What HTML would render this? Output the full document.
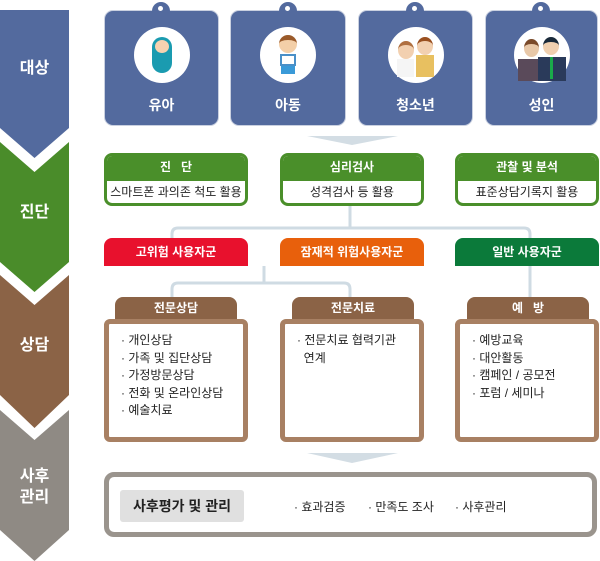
<!DOCTYPE html>
<html><head><meta charset="utf-8"><style>
*{margin:0;padding:0;box-sizing:border-box}
body{width:600px;height:561px;background:#fff;position:relative;overflow:hidden;font-family:"Liberation Sans","Noto Sans CJK KR",sans-serif}
.a{position:absolute}
.lbl{color:#fff;font-weight:bold;font-size:16px;text-align:center;width:69px;line-height:21px}
.card{position:absolute;top:10px;height:116px;background:#536a9e;border-radius:9px;border:1px solid #c9d0e0}
.card .c{position:absolute;left:50%;top:16px;width:56px;height:56px;margin-left:-28px;border-radius:50%;background:#fff}
.card .t{position:absolute;left:0;right:0;top:84px;text-align:center;color:#fff;font-weight:bold;font-size:14px}
.hang{position:absolute;top:2px;width:18px;height:14px;border-radius:9px 9px 0 0;background:#536a9e;margin-left:-9px}
.hang:after{content:"";position:absolute;left:6px;top:4px;width:5px;height:5px;border-radius:50%;background:#fff}
.gb{position:absolute;top:153px;width:144px;height:53px;border:3px solid #4a8f2a;border-radius:8px;background:#fff;overflow:hidden}
.gb .h{background:#4a8f2a;height:26px;color:#fff;font-weight:bold;font-size:12px;text-align:center;line-height:24px;margin:-1px}
.gb .b{text-align:center;font-size:12px;color:#222;line-height:24px}
.rb{position:absolute;top:238px;width:144px;height:28px;border-radius:8px 8px 0 0;color:#fff;font-weight:bold;font-size:12px;text-align:center;line-height:28px}
.tab{position:absolute;top:297px;width:122px;height:24px;background:#8b6346;border-radius:8px 8px 0 0;color:#fff;font-weight:bold;font-size:12px;text-align:center;line-height:22px}
.bb{position:absolute;top:319px;width:144px;height:123px;border:5px solid #a88063;border-radius:6px;background:#fff;font-size:12px;color:#222;line-height:17.5px;padding:8px 0 0 12px}
</style></head><body>
<svg class="a" style="left:0;top:0" width="600" height="561">
<polygon points="0,10 69,10 69,128 34.5,158 0,128" fill="#536a9e"/>
<polygon points="0,142 34.5,172 69,142 69,262 34.5,292 0,262" fill="#4a8c2a"/>
<polygon points="0,275 34.5,305 69,275 69,395 34.5,428 0,395" fill="#8b6346"/>
<polygon points="0,410 34.5,440 69,410 69,530 34.5,561 0,530" fill="#8f8a84"/>
<polygon points="307,136 398,136 352,145" fill="#d3dde4"/>
</svg>
<div class="a lbl" style="left:0;top:58px">대상</div>
<div class="a lbl" style="left:0;top:202px">진단</div>
<div class="a lbl" style="left:0;top:335px">상담</div>
<div class="a lbl" style="left:0;top:466px">사후<br>관리</div>

<div class="card" style="left:104px;width:115px"><div class="c"><div class="a" style="left:18px;top:10px;width:20px;height:36px;border-radius:10px;background:#1a9bb0"></div><div class="a" style="left:21px;top:13px;width:14px;height:13px;border-radius:50%;background:#f6d2b0"></div></div><div class="t">유아</div></div>
<div class="card" style="left:230px;width:116px"><div class="c"><div class="a" style="left:19px;top:8px;width:18px;height:18px;border-radius:50%;background:#f3cfa8;border-top:5px solid #9a5a2a"></div><div class="a" style="left:20px;top:27px;width:16px;height:12px;background:#fff;border:2px solid #4a90c8"></div><div class="a" style="left:21px;top:39px;width:14px;height:8px;background:#3a9ad8"></div></div><div class="t">아동</div></div>
<div class="card" style="left:358px;width:115px"><div class="c"><div class="a" style="left:10px;top:14px;width:16px;height:18px;border-radius:50%;background:#f2d0b0;border-top:4px solid #b07040"></div><div class="a" style="left:29px;top:10px;width:16px;height:18px;border-radius:50%;background:#f2d0b0;border-top:4px solid #9a5020"></div><div class="a" style="left:28px;top:28px;width:18px;height:22px;background:#e8c060"></div><div class="a" style="left:9px;top:32px;width:17px;height:18px;background:#f5f5f5"></div></div><div class="t">청소년</div></div>
<div class="card" style="left:485px;width:113px"><div class="c"><div class="a" style="left:10px;top:12px;width:15px;height:18px;border-radius:50%;background:#e8c8a8;border-top:5px solid #7a4a2a"></div><div class="a" style="left:29px;top:10px;width:16px;height:18px;border-radius:50%;background:#f0d0b0;border-top:5px solid #1a2a3a"></div><div class="a" style="left:4px;top:32px;width:22px;height:22px;background:#5a4a5a"></div><div class="a" style="left:24px;top:30px;width:28px;height:24px;background:#2a3a5a"></div><div class="a" style="left:36px;top:30px;width:3px;height:22px;background:#1aaa4a"></div></div><div class="t">성인</div></div>
<div class="hang" style="left:161px"></div><div class="hang" style="left:288px"></div><div class="hang" style="left:415px"></div><div class="hang" style="left:541px"></div>

<div class="gb" style="left:104px"><div class="h">진 &nbsp; 단</div><div class="b">스마트폰 과의존 척도 활용</div></div>
<div class="gb" style="left:280px"><div class="h">심리검사</div><div class="b">성격검사 등 활용</div></div>
<div class="gb" style="left:455px"><div class="h">관찰 및 분석</div><div class="b">표준상담기록지 활용</div></div>

<svg class="a" style="left:0;top:0" width="600" height="561">
<g fill="none" stroke="#cfdbe3" stroke-width="3">
<path d="M350,206 V228 M172,238 V234 Q172,228 178,228 H524 Q530,228 530,234 V238"/>
<path d="M264,266 V283 M172,297 V289 Q172,283 178,283 H344 Q350,283 350,289 V297"/>
<path d="M530,266 V297"/>
</g>
<polygon points="307,453 398,453 352,463" fill="#d3dde4"/>
</svg>
<div class="rb" style="left:104px;background:#e8112d">고위험 사용자군</div>
<div class="rb" style="left:280px;background:#e8600c">잠재적 위험사용자군</div>
<div class="rb" style="left:455px;background:#0b7a3a">일반 사용자군</div>

<div class="tab" style="left:115px">전문상담</div>
<div class="tab" style="left:292px">전문치료</div>
<div class="tab" style="left:467px">예 &nbsp; 방</div>
<div class="bb" style="left:104px">· 개인상담<br>· 가족 및 집단상담<br>· 가정방문상담<br>· 전화 및 온라인상담<br>· 예술치료</div>
<div class="bb" style="left:280px">· 전문치료 협력기관<br>&nbsp;&nbsp;연계</div>
<div class="bb" style="left:455px">· 예방교육<br>· 대안활동<br>· 캠페인 / 공모전<br>· 포럼 / 세미나</div>

<div class="a" style="left:104px;top:472px;width:493px;height:65px;border:5px solid #9a948d;border-radius:10px;background:#fff"></div>
<div class="a" style="left:120px;top:490px;width:124px;height:32px;background:#e0e0e0;border-radius:3px;font-weight:bold;font-size:14px;line-height:32px;text-align:center;color:#222">사후평가 및 관리</div>
<div class="a" style="left:294px;top:498px;font-size:12px;color:#222">· 효과검증</div>
<div class="a" style="left:368px;top:498px;font-size:12px;color:#222">· 만족도 조사</div>
<div class="a" style="left:455px;top:498px;font-size:12px;color:#222">· 사후관리</div>
</body></html>
